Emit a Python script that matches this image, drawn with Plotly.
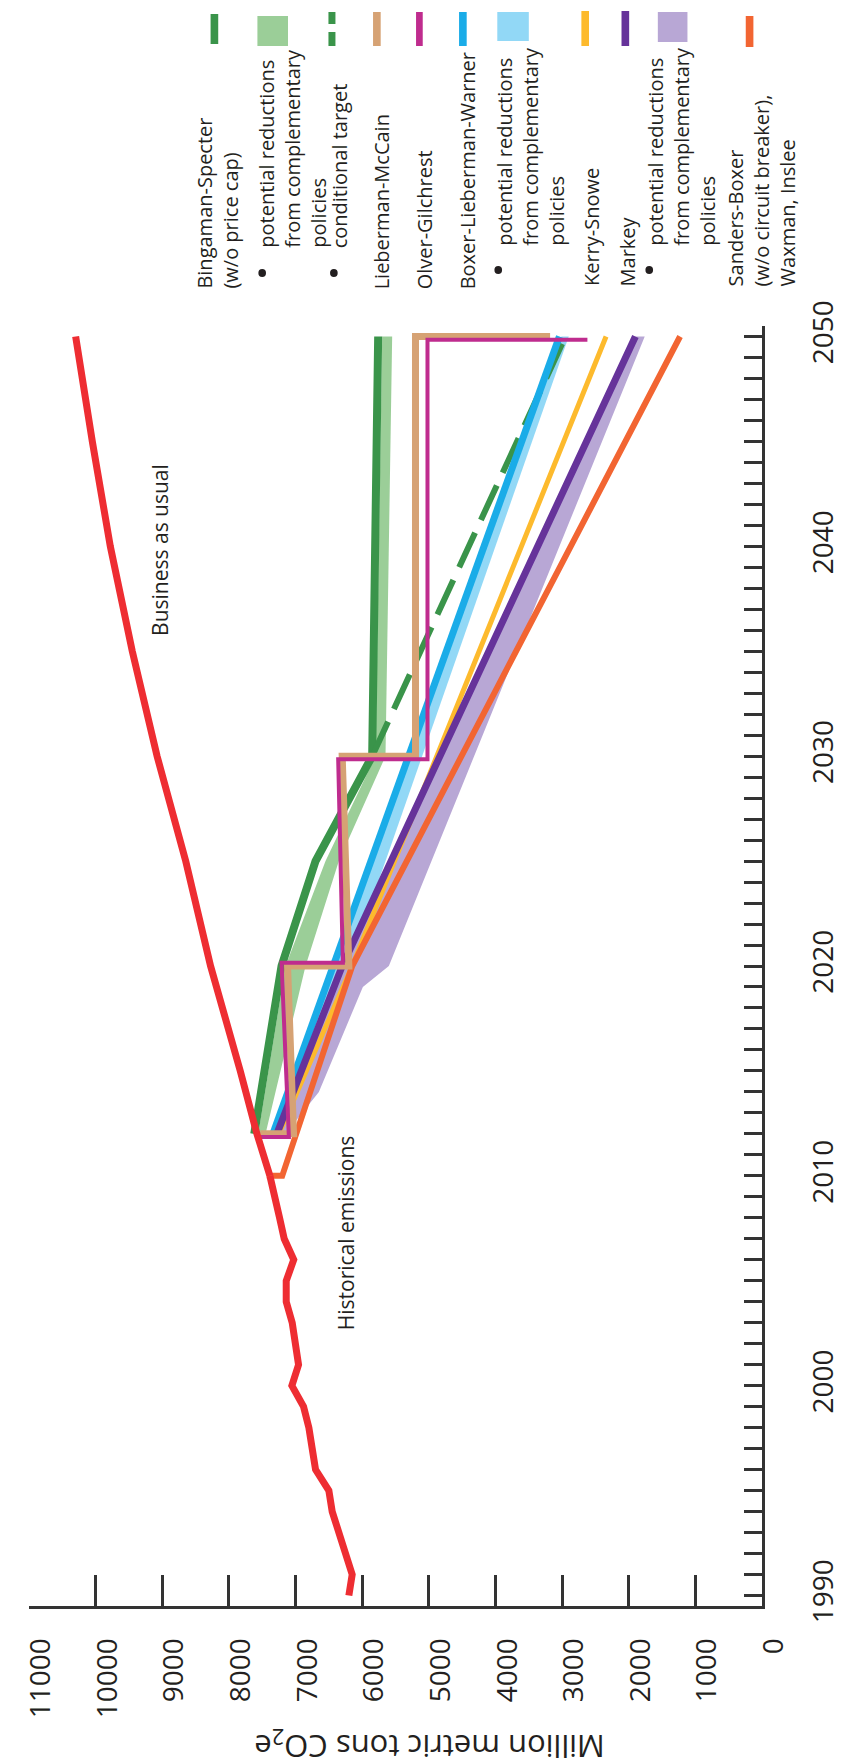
import plotly.graph_objects as go

# ---------------- data ----------------
hist_years = [1990, 1991, 1992, 1993, 1994, 1995, 1996, 1997, 1998, 1999, 2000, 2001, 2002, 2003, 2004, 2005, 2006, 2007, 2008, 2010]
hist_vals = [6200, 6150, 6250, 6350, 6450, 6500, 6700, 6750, 6800, 6880, 7055, 6955, 7000, 7050, 7140, 7140, 7027, 7170, 7240, 7385]

bau_years = [2010, 2012, 2015, 2020, 2025, 2030, 2035, 2040, 2045, 2050]
bau_vals = [7385, 7580, 7830, 8275, 8648, 9078, 9450, 9780, 10050, 10300]

bs_years = [2012, 2020, 2025, 2030, 2050]
bs_vals = [7620, 7210, 6700, 5850, 5760]
bs_band_years = [2012, 2020, 2025, 2030, 2050]
bs_band_hi = [7560, 7150, 6550, 5800, 5700]
bs_band_lo = [7450, 6850, 6350, 5650, 5550]

cond_years = [2030, 2050]
cond_vals = [5850, 2950]

lm_years = [2012, 2012, 2020, 2020, 2030, 2030, 2050, 2050]
lm_vals = [7530, 7030, 7120, 6200, 6300, 5200, 5200, 3180]

og_years = [2011.85, 2011.85, 2020.15, 2020.15, 2029.85, 2029.85, 2049.85, 2049.85]
og_vals = [7530, 7100, 7210, 6290, 6360, 5020, 5020, 2620]

blw_years = [2012, 2020, 2030, 2040, 2050]
blw_vals = [7340, 6435, 5303, 4172, 3040]
blw_band_hi = [7300, 6400, 5270, 4140, 3010]
blw_band_lo = [7200, 6200, 5100, 4000, 2900]

ks_years = [2012, 2020, 2050]
ks_vals = [7250, 6150, 2340]

mk_years = [2012, 2020, 2050]
mk_vals = [7280, 6300, 1900]
mk_band_years = [2012, 2014, 2019, 2020, 2050]
mk_band_hi = [7280, 7030, 6420, 6300, 1900]
mk_band_lo = [7150, 6650, 5990, 5600, 1760]

sb_years = [2010, 2010, 2020, 2050]
sb_vals = [7430, 7200, 6150, 1230]

value_ticks = list(range(0, 11001, 1000))
year_ticks = [1990, 2000, 2010, 2020, 2030, 2040, 2050]

# ---------------- colours ----------------
RED = "#EE2D32"
DKGREEN = "#3A944A"
LTGREEN = "rgba(150,203,146,0.95)"
TAN = "#D6A274"
MAGENTA = "#BF2C8E"
BLUE = "#1AACE8"
LTBLUE = "rgba(140,214,246,0.95)"
YELLOW = "#FDBA2D"
PURPLE = "#66339A"
LAVENDER = "rgba(180,162,211,0.95)"
ORANGE = "#F26532"
AXIS = "#333333"
TEXT = "#231F20"
FONT = "Open Sans"

fig = go.Figure()


def band(years, hi, lo, color):
    fig.add_trace(go.Scatter(x=hi + lo[::-1], y=years + years[::-1], fill="toself",
                             fillcolor=color, line=dict(width=0), mode="lines",
                             hoverinfo="skip", showlegend=False))


def line(years, vals, color, width, dash=None):
    fig.add_trace(go.Scatter(x=vals, y=years, mode="lines",
                             line=dict(color=color, width=width, dash=dash),
                             hoverinfo="skip", showlegend=False))


band(bs_band_years, bs_band_hi, bs_band_lo, LTGREEN)
band(blw_years, blw_band_hi, blw_band_lo, LTBLUE)
band(mk_band_years, mk_band_hi, mk_band_lo, LAVENDER)

line(bs_years, bs_vals, DKGREEN, 8)
line(cond_years, cond_vals, DKGREEN, 6, "38px,14px")
line(blw_years, blw_vals, BLUE, 7)
line(ks_years, ks_vals, YELLOW, 5)
line(mk_years, mk_vals, PURPLE, 7)
line(sb_years, sb_vals, ORANGE, 6)
line(lm_years, lm_vals, TAN, 7)
line(og_years, og_vals, MAGENTA, 4)
line(hist_years, hist_vals, RED, 7)
line(bau_years, bau_vals, RED, 7)

# ---------------- layout helpers (pixel -> paper) ----------------
L, R, T, B = 13, 780, 318, 1598


def px(xp):
    return (xp - L) / (R - L)


def py(yp):
    return (B - yp) / (B - T)


shapes = []
annotations = []


def rect(x0, x1, y0, y1, color):
    shapes.append(dict(type="rect", xref="paper", yref="paper", x0=px(x0), x1=px(x1),
                       y0=py(y1), y1=py(y0), fillcolor=color, line=dict(width=0)))


def dot(xc, yc, r=4):
    shapes.append(dict(type="circle", xref="paper", yref="paper", x0=px(xc - r), x1=px(xc + r),
                       y0=py(yc + r), y1=py(yc - r), fillcolor=TEXT, line=dict(width=0)))


def vtext(xp, yp, text, size=20):
    annotations.append(dict(xref="paper", yref="paper", x=px(xp), y=py(yp), text=text,
                            textangle=-90, showarrow=False, xanchor="left",
                            yanchor="bottom", align="left",
                            font=dict(family=FONT, size=size, color=TEXT)))


# legend swatches
rect(203, 211, 6, 36, DKGREEN)
rect(252, 284, 8, 38, LTGREEN)
shapes.append(dict(type="line", xref="paper", yref="paper", x0=px(330), x1=px(330),
                   y0=py(38), y1=py(24), line=dict(color=DKGREEN, width=7)))
shapes.append(dict(type="line", xref="paper", yref="paper", x0=px(330), x1=px(330),
                   y0=py(16), y1=py(4), line=dict(color=DKGREEN, width=7)))
rect(373, 381, 4, 38, TAN)
rect(418, 425, 4, 38, MAGENTA)
rect(463, 471, 4, 38, BLUE)
rect(503, 536, 4, 33, LTBLUE)
rect(591, 599, 3, 38, YELLOW)
rect(633, 641, 3, 38, PURPLE)
rect(671, 702, 4, 34, LAVENDER)
rect(763, 771, 8, 39, ORANGE)

# legend bullets
dot(257, 265)
dot(332, 265)
dot(504, 262)
dot(662, 262)

# legend texts
vtext(180, 283, "Bingaman-Specter<br>(w/o price cap)")
vtext(245, 242, "potential reductions<br>from complementary<br>policies")
vtext(322, 242, "conditional target")
vtext(366, 283, "Lieberman-McCain")
vtext(411, 283, "Olver-Gilchrest")
vtext(456, 283, "Boxer-Lieberman-Warner")
vtext(494, 240, "potential reductions<br>from complementary<br>policies")
vtext(586, 280, "Kerry-Snowe")
vtext(624, 280, "Markey")
vtext(652, 240, "potential reductions<br>from complementary<br>policies")
vtext(737, 280, "Sanders-Boxer<br>(w/o circuit breaker),<br>Waxman, Inslee")

# chart labels
annotations.append(dict(xref="paper", yref="paper", x=px(150), y=py(542), text="Business as usual",
                        textangle=-90, showarrow=False, xanchor="center", yanchor="middle",
                        font=dict(family=FONT, size=21, color=TEXT)))
annotations.append(dict(xref="paper", yref="paper", x=px(345), y=py(1225), text="Historical emissions",
                        textangle=-90, showarrow=False, xanchor="center", yanchor="middle",
                        font=dict(family=FONT, size=21, color=TEXT)))
annotations.append(dict(xref="paper", yref="paper", x=px(432), y=py(1737),
                        text="Million metric tons CO<sub>2</sub>e",
                        textangle=180, showarrow=False, xanchor="center", yanchor="middle",
                        font=dict(family=FONT, size=31, color=TEXT)))

fig.update_layout(
    width=845, height=1762, autosize=False,
    margin=dict(l=L, r=845 - R, t=T, b=1762 - B, pad=0),
    paper_bgcolor="white", plot_bgcolor="white",
    showlegend=False,
    shapes=shapes, annotations=annotations,
    font=dict(family=FONT, color=TEXT),
    xaxis=dict(range=[11000, 0], tickmode="array", tickvals=value_ticks,
               ticktext=[str(v) for v in value_ticks],
               ticks="inside", ticklen=31, tickwidth=3, tickcolor=AXIS,
               showline=True, linewidth=3, linecolor=AXIS, showgrid=False, zeroline=False,
               tickangle=-90, tickfont=dict(family=FONT, size=28, color=TEXT),
               ticklabelstandoff=18, ticklabelshift=-12),
    yaxis=dict(range=[1989.5, 2050.5], side="right", tickmode="array", tickvals=year_ticks,
               ticks="inside", ticklen=18, tickwidth=3, tickcolor=AXIS,
               minor=dict(dtick=1, tick0=1990, ticks="inside", ticklen=18, tickwidth=3, tickcolor=AXIS),
               showline=True, linewidth=3, linecolor=AXIS, showgrid=False, zeroline=False,
               tickangle=-90, tickfont=dict(family=FONT, size=28, color=TEXT),
               ticklabelstandoff=34),
)

fig.write_html("out.html")
